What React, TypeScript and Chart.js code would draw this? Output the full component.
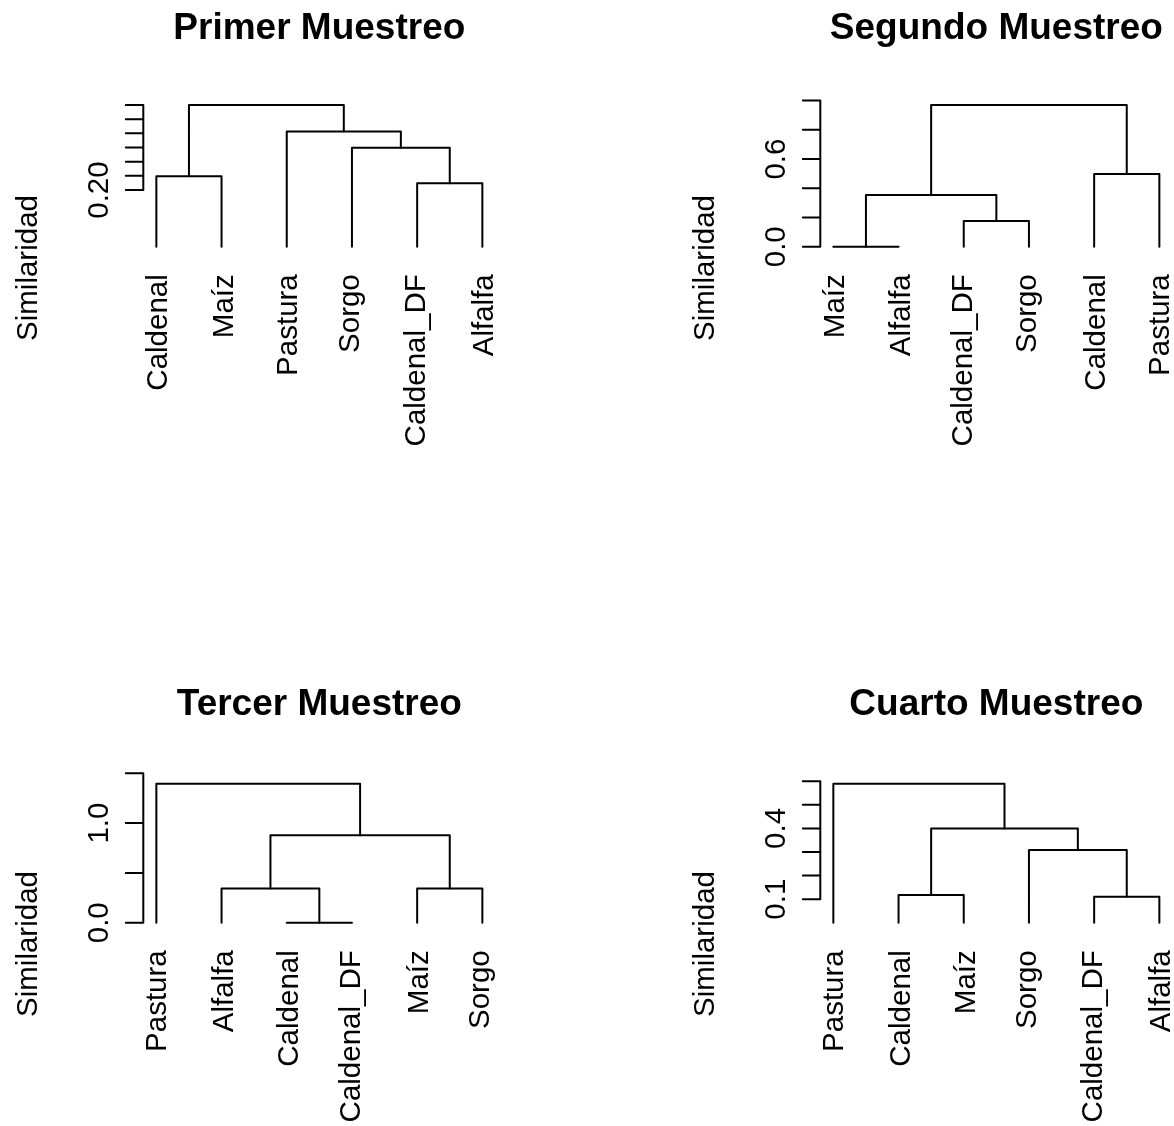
import React, { useEffect, useRef } from 'react';
import { Chart, registerables } from 'chart.js';

Chart.register(...registerables);

const FONT = '"Liberation Sans", Arial, Helvetica, sans-serif';

// ---- Primer Muestreo ----
const primerTitle = 'Primer Muestreo';
const primerLeaves = ['Caldenal', 'Maíz', 'Pastura', 'Sorgo', 'Caldenal_DF', 'Alfalfa'];
// merge rows: negative = leaf position (1-based), positive = earlier merge row
const primerMerge: [number, number][] = [[-5, -6], [-1, -2], [-4, 1], [-3, 3], [2, 4]];
const primerHeights = [0.224, 0.249, 0.349, 0.406, 0.5];
const primerTicks = [0.2, 0.25, 0.3, 0.35, 0.4, 0.45, 0.5];
const primerTickLabels = ['0.20', '', '', '', '', '', ''];

// ---- Segundo Muestreo ----
const segundoTitle = 'Segundo Muestreo';
const segundoLeaves = ['Maíz', 'Alfalfa', 'Caldenal_DF', 'Sorgo', 'Caldenal', 'Pastura'];
const segundoMerge: [number, number][] = [[-1, -2], [-3, -4], [1, 2], [-5, -6], [3, 4]];
const segundoHeights = [0, 0.176, 0.354, 0.498, 0.97];
const segundoTicks = [0, 0.2, 0.4, 0.6, 0.8, 1.0];
const segundoTickLabels = ['0.0', '', '', '0.6', '', ''];

// ---- Tercer Muestreo ----
const tercerTitle = 'Tercer Muestreo';
const tercerLeaves = ['Pastura', 'Alfalfa', 'Caldenal', 'Caldenal_DF', 'Maíz', 'Sorgo'];
const tercerMerge: [number, number][] = [[-3, -4], [-2, 1], [-5, -6], [2, 3], [-1, 4]];
const tercerHeights = [0, 0.344, 0.344, 0.877, 1.394];
const tercerTicks = [0, 0.5, 1.0, 1.5];
const tercerTickLabels = ['0.0', '', '1.0', ''];

// ---- Cuarto Muestreo ----
const cuartoTitle = 'Cuarto Muestreo';
const cuartoLeaves = ['Pastura', 'Caldenal', 'Maíz', 'Sorgo', 'Caldenal_DF', 'Alfalfa'];
const cuartoMerge: [number, number][] = [[-5, -6], [-2, -3], [-4, 1], [2, 3], [-1, 4]];
const cuartoHeights = [0.11, 0.118, 0.308, 0.4, 0.589];
const cuartoTicks = [0.1, 0.2, 0.3, 0.4, 0.5, 0.6];
const cuartoTickLabels = ['0.1', '', '', '0.4', '', ''];

const yLabel = 'Similaridad';

type PanelDef = {
  title: string;
  leaves: string[];
  merge: [number, number][];
  heights: number[];
  ticks: number[];
  tickLabels: string[];
  left: number;
  top: number;
  areaTop: number;
  areaBottom: number;
};

const PANEL_W = 677;
const PANEL_H = 676;
const AREA_LEFT = 143.3;
const AREA_RIGHT = 495.4;

const panels: PanelDef[] = [
  { title: primerTitle, leaves: primerLeaves, merge: primerMerge, heights: primerHeights, ticks: primerTicks, tickLabels: primerTickLabels, left: 0, top: 0, areaTop: 99.3, areaBottom: 252.4 },
  { title: segundoTitle, leaves: segundoLeaves, merge: segundoMerge, heights: segundoHeights, ticks: segundoTicks, tickLabels: segundoTickLabels, left: PANEL_W, top: 0, areaTop: 99.3, areaBottom: 252.4 },
  { title: tercerTitle, leaves: tercerLeaves, merge: tercerMerge, heights: tercerHeights, ticks: tercerTicks, tickLabels: tercerTickLabels, left: 0, top: PANEL_H, areaTop: 102.3, areaBottom: 252.3 },
  { title: cuartoTitle, leaves: cuartoLeaves, merge: cuartoMerge, heights: cuartoHeights, ticks: cuartoTicks, tickLabels: cuartoTickLabels, left: PANEL_W, top: PANEL_H, areaTop: 102.3, areaBottom: 252.3 },
];

// Turn the merge table into elbow segments: left child up, across, down to right child.
function buildSegments(merge: [number, number][], heights: number[]) {
  const pos: number[] = [];
  const hts: number[] = [];
  const segs: { x: number; y: number }[][] = [];
  merge.forEach(([a, b], i) => {
    const xa = a < 0 ? -a : pos[a - 1];
    const ha = a < 0 ? 0 : hts[a - 1];
    const xb = b < 0 ? -b : pos[b - 1];
    const hb = b < 0 ? 0 : hts[b - 1];
    const h = heights[i];
    const [x1, h1, x2, h2] = xa <= xb ? [xa, ha, xb, hb] : [xb, hb, xa, ha];
    segs.push([
      { x: x1, y: h1 },
      { x: x1, y: h },
      { x: x2, y: h },
      { x: x2, y: h2 },
    ]);
    pos[i] = (xa + xb) / 2;
    hts[i] = h;
  });
  return segs;
}

function DendroPanel({ def }: { def: PanelDef }) {
  const ref = useRef<HTMLCanvasElement | null>(null);

  useEffect(() => {
    const canvas = ref.current;
    if (!canvas) return;
    const segs = buildSegments(def.merge, def.heights);
    const hi = Math.max(...def.heights);
    const n = def.leaves.length;
    const xPad = 0.04 * (n - 1);

    const decorations = {
      id: 'dendroDecorations',
      afterDraw(chart: any) {
        const ctx: CanvasRenderingContext2D = chart.ctx;
        const xs = chart.scales.x;
        const ys = chart.scales.y;
        const area = chart.chartArea;
        const axisX = area.left;
        ctx.save();
        ctx.fillStyle = '#000';
        ctx.strokeStyle = '#000';
        ctx.lineWidth = 2;
        ctx.lineCap = 'round';

        // y axis: line between outer ticks, tick marks pointing left
        const tickPx = def.ticks.map((t) => ys.getPixelForValue(t));
        ctx.beginPath();
        ctx.moveTo(axisX, tickPx[0]);
        ctx.lineTo(axisX, tickPx[tickPx.length - 1]);
        tickPx.forEach((p) => {
          ctx.moveTo(axisX, p);
          ctx.lineTo(axisX - 17.5, p);
        });
        ctx.stroke();

        // tick labels, parallel to the axis
        ctx.font = `29.5px ${FONT}`;
        ctx.textAlign = 'center';
        ctx.textBaseline = 'alphabetic';
        def.tickLabels.forEach((lab, i) => {
          if (!lab) return;
          ctx.save();
          ctx.translate(axisX - 35, tickPx[i]);
          ctx.rotate(-Math.PI / 2);
          ctx.fillText(lab, 0, 0);
          ctx.restore();
        });

        // axis title
        ctx.save();
        ctx.translate(axisX - 106, 268);
        ctx.rotate(-Math.PI / 2);
        ctx.fillText(yLabel, 0, 0);
        ctx.restore();

        // leaf labels, vertical, ending just below the leaves
        const labelTop = ys.getPixelForValue(0) + 27.5;
        ctx.textAlign = 'right';
        def.leaves.forEach((lab, i) => {
          const x = xs.getPixelForValue(i + 1);
          const m = ctx.measureText(lab);
          const off = (m.actualBoundingBoxAscent - m.actualBoundingBoxDescent) / 2;
          ctx.save();
          ctx.translate(x, labelTop);
          ctx.rotate(-Math.PI / 2);
          ctx.fillText(lab, 0, off);
          ctx.restore();
        });

        // main title
        ctx.font = `bold 37px ${FONT}`;
        ctx.textAlign = 'center';
        ctx.fillText(def.title, (area.left + area.right) / 2, 39.3);
        ctx.restore();
      },
    };

    const chart = new Chart(canvas, {
      type: 'line',
      data: {
        datasets: segs.map((s) => ({
          data: s,
          borderColor: '#000',
          borderWidth: 2,
          pointRadius: 0,
          pointHoverRadius: 0,
          tension: 0,
          fill: false,
          borderCapStyle: 'round' as const,
          borderJoinStyle: 'round' as const,
          clip: false as any,
        })),
      },
      options: {
        animation: false,
        responsive: false,
        devicePixelRatio: 1,
        events: [],
        layout: {
          padding: {
            left: AREA_LEFT,
            right: PANEL_W - AREA_RIGHT,
            top: def.areaTop,
            bottom: PANEL_H - def.areaBottom,
          },
        },
        plugins: {
          legend: { display: false },
          title: { display: false },
          tooltip: { enabled: false },
        },
        scales: {
          x: { type: 'linear', display: false, min: 1 - xPad, max: n + xPad },
          y: { type: 'linear', display: false, min: -0.04 * hi, max: 1.04 * hi },
        },
      },
      plugins: [decorations],
    });

    return () => chart.destroy();
  }, [def]);

  return (
    <canvas
      ref={ref}
      width={PANEL_W}
      height={PANEL_H}
      style={{ position: 'absolute', left: def.left, top: def.top, width: PANEL_W, height: PANEL_H }}
    />
  );
}

export default function App() {
  return (
    <div
      style={{
        position: 'absolute',
        left: 0,
        top: 0,
        width: 1174,
        height: 1126,
        overflow: 'hidden',
        background: '#ffffff',
      }}
    >
      {panels.map((p) => (
        <DendroPanel key={p.title} def={p} />
      ))}
    </div>
  );
}
